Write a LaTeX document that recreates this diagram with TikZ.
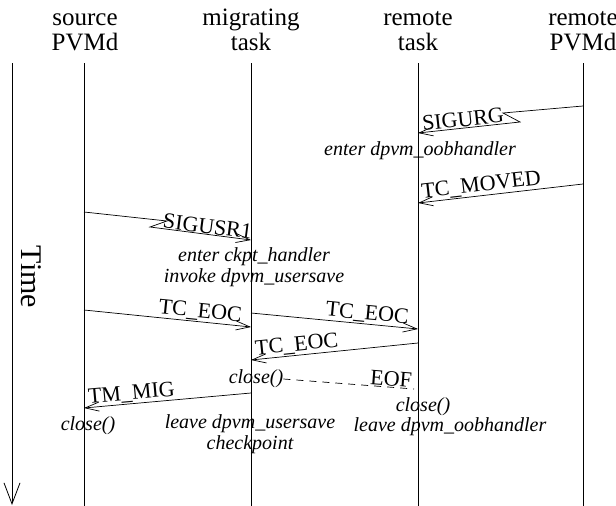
\documentclass[tikz,border=0pt]{standalone}
\usepackage{fontspec}
\setmainfont{Liberation Serif}
\usetikzlibrary{positioning, arrows.meta}

\begin{document}
\begin{tikzpicture}[
    x = 1pt, y = -1pt,
    headNode/.append style = {anchor = base, font = \fontsize{25}{25}\selectfont, inner sep = 0pt},
    noteNode/.append style = {align = center, font = \fontsize{20}{21}\selectfont\itshape, inner sep = 0pt},
    msgLabel/.append style = {font = \fontsize{22}{22}\selectfont, sloped, above, inner sep = 1pt},
    lifeLine/.append style = {line width = 0.7pt},
    myArrow/.append style = {-{Straight Barb[length = 14pt, width = 9pt]}, line width = 0.7pt},
    timeArrow/.append style = {-{Straight Barb[length = 21pt, width = 16pt]}, line width = 0.8pt}
    ]
      \useasboundingbox (0,0) rectangle (616,506);

      \node[headNode] (srcName) at (85,25) {source};
      \node[headNode] (srcHead) at (85,50) {PVMd};
      \node[headNode] (migName) at (251,25) {migrating};
      \node[headNode] (migHead) at (251,50) {task};
      \node[headNode] (remName) at (418,25) {remote};
      \node[headNode] (remHead) at (418,50) {task};
      \node[headNode] (rpvName) at (583,25) {remote};
      \node[headNode] (rpvHead) at (583,50) {PVMd};

      \coordinate (timeTop) at (12,63);
      \coordinate (timeBot) at (12,505);
      \coordinate (srcTop) at (84,63);
      \coordinate (srcBot) at (84,506);
      \coordinate (migTop) at (251,63);
      \coordinate (migBot) at (251,506);
      \coordinate (remTop) at (418,63);
      \coordinate (remBot) at (418,506);
      \coordinate (rpvTop) at (583,63);
      \coordinate (rpvBot) at (583,506);

      %% Lifelines
      \draw[timeArrow] (timeTop) -- (timeBot);
      \node[font = \fontsize{30}{30}\selectfont, inner sep = 0pt, rotate = -90] (timeLabel) at (31,277) {Time};
      \draw[lifeLine] (srcTop) -- (srcBot);
      \draw[lifeLine] (migTop) -- (migBot);
      \draw[lifeLine] (remTop) -- (remBot);
      \draw[lifeLine] (rpvTop) -- (rpvBot);

      %% Message end points
      \coordinate (urgFrom) at (583,106);
      \coordinate (urgTo) at (418,133);
      \coordinate (movFrom) at (583,184);
      \coordinate (movTo) at (418,203);
      \coordinate (usrFrom) at (84,212);
      \coordinate (usrTo) at (251,240);
      \coordinate (eocAFrom) at (84,310);
      \coordinate (eocATo) at (251,327);
      \coordinate (eocBFrom) at (251,313);
      \coordinate (eocBTo) at (418,329);
      \coordinate (eocCFrom) at (418,343);
      \coordinate (eocCTo) at (251,360);
      \coordinate (migFrom) at (251,393);
      \coordinate (migTo) at (84,408);
      \coordinate (eofEnd) at (414,389);

      %% Notes
      \node[noteNode] (oobEnter) at (420,151) {enter dpvm\_oobhandler};
      \node[noteNode] (ckptEnter) at (254,267) {enter ckpt\_handler\\invoke dpvm\_usersave};
      \node[noteNode] (migClose) at (256,379) {close()};
      \node[noteNode] (srcClose) at (88,426) {close()};
      \node[noteNode] (usrLeave) at (250,434) {leave dpvm\_usersave\\checkpoint};
      \node[noteNode] (remClose) at (423,407) {close()};
      \node[noteNode] (oobLeave) at (450,427) {leave dpvm\_oobhandler};

      %% Arrows
      \draw[myArrow] (urgFrom) -- ++(-80,7) -- ++(17,9)
          -- node[msgLabel, pos = 0.55] (urgLabel) {SIGURG} (urgTo);
      \draw[myArrow] (movFrom) -- node[msgLabel, pos = 0.61] (movLabel) {TC\_MOVED} (movTo);
      \draw[myArrow] (usrFrom) -- ++(83,9) -- ++(-17,6)
          -- node[msgLabel, pos = 0.56, inner sep = 0.5pt] (usrLabel) {SIGUSR1} (usrTo);
      \draw[myArrow] (eocAFrom) -- node[msgLabel, pos = 0.69] (eocALabel) {TC\_EOC} (eocATo);
      \draw[myArrow] (eocBFrom) -- node[msgLabel, pos = 0.69] (eocBLabel) {TC\_EOC} (eocBTo);
      \draw[myArrow] (eocCFrom) -- node[msgLabel, pos = 0.72] (eocCLabel) {TC\_EOC} (eocCTo);
      \draw[myArrow] (migFrom) -- node[msgLabel, pos = 0.71] (migLabel) {TM\_MIG} (migTo);
      \draw[lifeLine, dash pattern = on 7pt off 6pt] (migClose.east) -- node[msgLabel, pos = 0.82] (eofLabel) {EOF} (eofEnd);
\end{tikzpicture}
\end{document}
